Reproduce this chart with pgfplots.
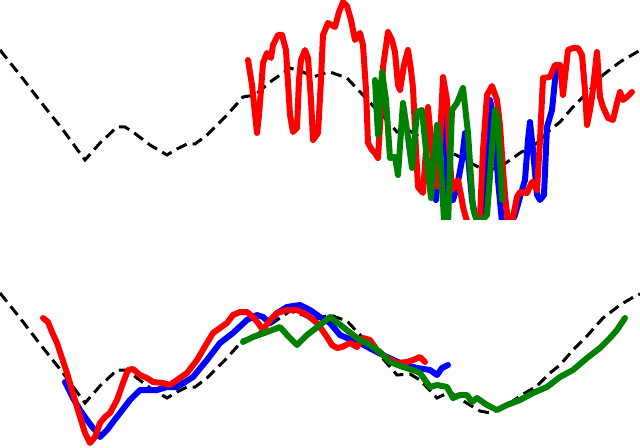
\documentclass[border=0pt]{standalone}
\usepackage{pgfplots}
\pgfplotsset{compat=1.18}
\definecolor{mred}{RGB}{255,0,0}
\definecolor{mblue}{RGB}{0,0,255}
\definecolor{mgreen}{RGB}{0,128,0}
\pgfplotsset{
  ref/.style={black, line width=3bp, dash pattern=on 11bp off 6bp},
  ser/.style={line width=6bp, line join=round, line cap=round},
}
\begin{document}
\begin{tikzpicture}
\useasboundingbox (0,0) rectangle (640bp,448bp);
% ---------------- top panel ----------------
\begin{axis}[at={(0,448bp)}, anchor=north west, width=640bp, height=220bp, scale only axis,
  xmin=0, xmax=640, ymin=0, ymax=220, y dir=reverse, hide axis]
\addplot[ref] coordinates {(0,50)(20,75)(40,101)(63,130)(85,160)(100,143)(117,127)(125,127)(133,132)(150,145)(167,155)(177,149)(187,144)(195,144)(207,135)(227,115)(243,97)(255,95)(270,82)(290,68)(303,72)(313,77)(322,74)(330,72)(347,78)(363,95)(375,108)(385,118)(397,132)(410,131)(420,137)(440,147)(460,157)(480,168)(490,170)(503,165)(520,153)(537,143)(550,130)(560,122)(573,107)(587,93)(603,75)(620,62)(637,52)(640,51)};
\addplot[ser, mblue] coordinates {(430,190)(436,200)(440,150)(443,95)(446,150)(448,200)(453,200)(457,187)(462,160)(465,133)(468,155)(472,200)(475,215)(480,222)(485,210)(490,100)(494,120)(498,180)(502,222)(508,230)(515,215)(520,197)(525,180)(528,140)(530,122)(533,150)(537,195)(540,200)(544,195)(547,127)(552,110)(555,80)(558,67)(562,75)};
\addplot[ser, mred] coordinates {(248,60)(252,85)(257,133)(259,115)(261,90)(263,63)(267,53)(271,58)(273,45)(278,35)(282,35)(286,50)(290,115)(293,132)(297,128)(299,80)(301,60)(305,50)(308,58)(311,100)(313,140)(318,133)(321,80)(323,35)(328,23)(335,27)(339,12)(343,2)(347,6)(351,20)(355,40)(360,33)(363,45)(366,90)(368,143)(372,150)(375,153)(378,158)(381,110)(383,67)(388,32)(392,40)(395,52)(398,85)(400,90)(404,65)(408,50)(411,70)(413,88)(416,150)(418,187)(423,193)(426,150)(428,107)(431,140)(433,160)(436,185)(438,187)(441,120)(443,77)(447,100)(450,160)(452,190)(458,180)(461,195)(463,207)(468,225)(475,228)(480,217)(483,150)(487,95)(492,86)(497,100)(500,125)(503,170)(505,195)(508,222)(512,222)(517,197)(520,192)(527,193)(532,182)(537,190)(540,140)(543,78)(550,77)(555,65)(560,65)(563,95)(568,50)(573,48)(578,48)(582,55)(585,90)(587,125)(590,110)(592,97)(597,52)(600,97)(603,107)(608,118)(613,120)(617,103)(620,92)(623,100)(627,97)(632,92)};
\addplot[ser, mgreen] coordinates {(375,80)(378,135)(382,72)(386,100)(390,158)(395,157)(398,175)(403,103)(407,130)(412,168)(417,112)(422,110)(427,160)(431,198)(437,125)(440,150)(444,220)(448,225)(452,110)(457,103)(463,88)(468,133)(473,208)(478,225)(487,215)(495,110)(498,120)(502,200)};
\end{axis}
% ---------------- bottom panel ----------------
\begin{axis}[at={(0,0)}, anchor=south west, width=640bp, height=224bp, scale only axis,
  xmin=0, xmax=640, ymin=224, ymax=448, y dir=reverse, hide axis, clip=false]
\addplot[ref] coordinates {(0,293)(20,318)(40,344)(63,373)(85,403)(100,386)(117,370)(125,370)(133,375)(150,388)(167,398)(177,392)(187,387)(195,387)(207,378)(227,358)(243,340)(255,336)(270,325)(290,311)(303,315)(313,320)(322,317)(330,315)(347,321)(363,338)(375,351)(385,361)(397,375)(410,374)(420,380)(437,398)(450,392)(465,402)(480,411)(490,413)(503,408)(520,396)(537,386)(550,373)(560,365)(573,350)(587,336)(603,318)(620,305)(637,295)(640,294)};
\addplot[ser, mblue] coordinates {(65,382)(73,398)(80,410)(87,420)(93,428)(97,432)(100,437)(107,430)(113,422)(120,413)(130,400)(140,390)(147,390)(157,390)(167,387)(177,387)(185,382)(193,377)(207,360)(220,343)(233,333)(247,320)(257,315)(263,317)(270,323)(277,313)(287,307)(300,305)(310,310)(320,317)(330,323)(340,335)(347,338)(360,343)(373,350)(387,357)(400,363)(417,368)(430,370)(437,375)(442,368)(448,365)};
\addplot[ser, mred] coordinates {(43,318)(48,322)(52,332)(57,343)(62,358)(67,373)(72,390)(77,407)(81,420)(85,433)(90,443)(95,437)(100,423)(105,417)(110,413)(117,400)(123,383)(128,370)(133,369)(140,375)(147,378)(153,382)(163,383)(170,385)(177,380)(187,373)(197,360)(207,343)(213,333)(220,328)(227,323)(233,315)(240,312)(247,312)(253,317)(258,323)(263,330)(270,320)(277,313)(287,310)(297,310)(307,315)(317,323)(320,327)(327,337)(332,345)(337,348)(342,347)(350,343)(357,347)(363,338)(370,340)(377,350)(387,358)(397,363)(407,362)(413,360)(420,357)(425,362)};
\addplot[ser, mgreen] coordinates {(243,342)(253,337)(267,332)(280,327)(288,336)(297,345)(307,335)(320,325)(330,317)(343,327)(357,338)(370,345)(380,352)(390,362)(403,367)(413,370)(420,373)(430,387)(437,385)(447,387)(453,398)(460,395)(467,395)(472,402)(477,398)(487,405)(497,410)(507,405)(520,400)(533,393)(547,387)(560,377)(573,370)(587,358)(600,348)(610,338)(617,330)(625,318)};
\end{axis}
\end{tikzpicture}
\end{document}
